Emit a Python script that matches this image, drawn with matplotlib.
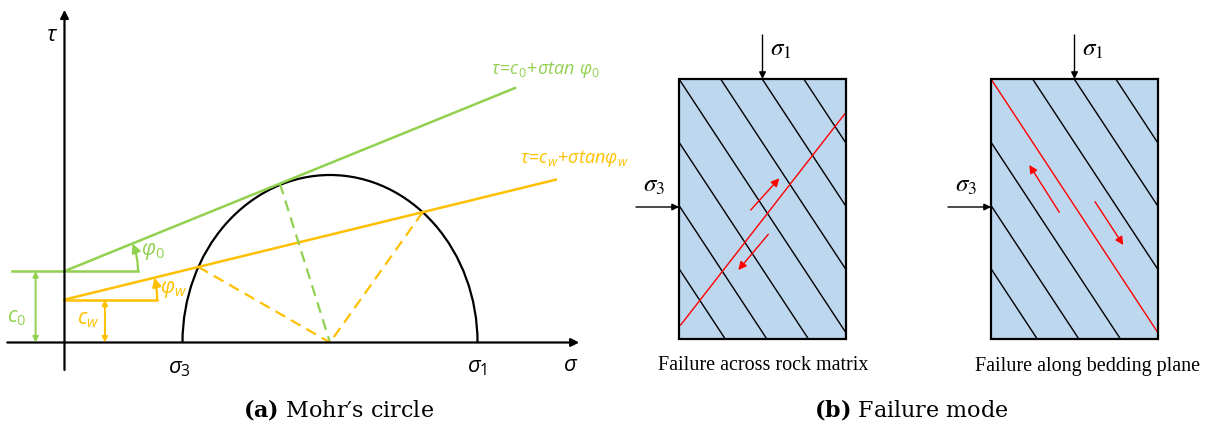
import numpy as np
import matplotlib.pyplot as plt
from matplotlib.patches import Arc, FancyArrowPatch, Rectangle

plt.rcParams['font.family'] = ['Liberation Serif', 'DejaVu Serif']
plt.rcParams['mathtext.fontset'] = 'custom'
plt.rcParams['mathtext.it'] = 'Open Sans:italic'
plt.rcParams['mathtext.rm'] = 'Open Sans'
plt.rcParams['mathtext.bf'] = 'Open Sans:bold'

GREEN = '#92D050'
ORANGE = '#FFC000'
BLUE = '#BDD7EE'
RED = '#FF0000'

# ---- (a) Mohr's circle (arbitrary stress units)
SIGMA_3 = 4.0
SIGMA_1 = 14.0
C0, TAN_PHI0 = 2.13, 0.358        # intact rock envelope
CW, TAN_PHIW = 1.28, 0.215        # weak plane envelope
ENV_END = [15.27, 16.65]          # sigma where each envelope line stops
SIG_AXIS = (-1.94, 17.45)
TAU_AXIS = (-0.82, 9.93)
C0_ARROW_X, CW_ARROW_X = -0.98, 1.37
GREEN_FLAT = (-1.79, 2.49)        # horizontal reference line at c0
ORANGE_FLAT = (0.0, 3.14)         # horizontal reference line at cw

# ---- (b) failure mode specimens, sketch units
BOX_LEFT = [679, 991]
BOX_TOP, BOX_W, BOX_H = 79, 167, 260
HATCH_STEP, HATCH_SLOPE = 41.6, 1.52
HATCH_K = range(-3, 4)
CRACK_LEFT = [(1.7, 246), (166.7, 33.7)]
SHEAR_LEFT = [((71.7, 131), (100.3, 99.3)), ((89.3, 155.3), (59.3, 191))]
SHEAR_RIGHT = [((68.3, 133.3), (38.3, 86)), ((104, 122.7), (132.3, 166))]
CAPTIONS_B = ['Failure across rock matrix', 'Failure along bedding plane']
CAPTION_X = [763, 1088]

fig = plt.figure(figsize=(12.17, 4.30), dpi=100)

# ================= panel (a)
ax = fig.add_axes([0, 0, 620 / 1217, 1])
ax.set_xlim(-2.186, 18.83)
ax.set_ylim(-2.612, 10.224)
ax.axis('off')
SX = 620 / (18.83 + 2.186)        # px per sigma unit
SY = 430 / (10.224 + 2.612)       # px per tau unit

center = (SIGMA_1 + SIGMA_3) / 2
R = (SIGMA_1 - SIGMA_3) / 2

ax.annotate('', xy=(SIG_AXIS[1], 0), xytext=(SIG_AXIS[0], 0),
            arrowprops=dict(arrowstyle='-|>', lw=1.6, color='black',
                            mutation_scale=12, shrinkA=0, shrinkB=0))
ax.annotate('', xy=(0, TAU_AXIS[1]), xytext=(0, TAU_AXIS[0]),
            arrowprops=dict(arrowstyle='-|>', lw=1.6, color='black',
                            mutation_scale=12, shrinkA=0, shrinkB=0))

ax.add_patch(Arc((center, 0), 2 * R, 2 * R, theta1=0, theta2=180,
                 lw=1.6, color='black'))

# envelopes
for c, m, end, col in [(C0, TAN_PHI0, ENV_END[0], GREEN),
                       (CW, TAN_PHIW, ENV_END[1], ORANGE)]:
    ax.plot([0, end], [c, c + m * end], color=col, lw=1.8)
ax.plot(GREEN_FLAT, [C0, C0], color=GREEN, lw=1.8)
ax.plot(ORANGE_FLAT, [CW, CW], color=ORANGE, lw=1.8)

# tangent point of the intact envelope
st = (center - TAN_PHI0 * C0) / (1 + TAN_PHI0 ** 2)
ax.plot([st, center], [C0 + TAN_PHI0 * st, 0], color=GREEN, lw=1.6,
        ls=(0, (5, 3)))

# intersections of the weak plane envelope with the circle
a = 1 + TAN_PHIW ** 2
b = 2 * TAN_PHIW * CW - 2 * center
cc = center ** 2 + CW ** 2 - R ** 2
for s in np.roots([a, b, cc]):
    ax.plot([s, center], [CW + TAN_PHIW * s, 0], color=ORANGE, lw=1.6,
            ls=(0, (5, 3)))


# angle arcs
def angle_arc(c, m, r, col, rad):
    r_px = r * SX
    ang = np.arctan(m * SY / SX)
    end = (r_px * np.cos(ang) / SX, c + r_px * np.sin(ang) / SY)
    ax.add_patch(FancyArrowPatch((r, c), end, connectionstyle=f'arc3,rad={rad}',
                                 arrowstyle='-|>', mutation_scale=13, lw=1.6,
                                 color=col, shrinkA=0, shrinkB=0))


angle_arc(C0, TAN_PHI0, GREEN_FLAT[1], GREEN, 0.1)
angle_arc(CW, TAN_PHIW, ORANGE_FLAT[1], ORANGE, 0.06)

# cohesion arrows
for x, c, col in [(C0_ARROW_X, C0, GREEN), (CW_ARROW_X, CW, ORANGE)]:
    ax.annotate('', xy=(x, c), xytext=(x, 0),
                arrowprops=dict(arrowstyle='<|-|>', lw=1.4, color=col,
                                mutation_scale=8, shrinkA=0, shrinkB=0))

mf = 'custom'
ax.text(-0.42, 9.12, r'$\tau$', fontsize=16, ha='center', va='center', math_fontfamily=mf)
ax.text(SIGMA_3 - 0.1, -0.8, r'$\sigma_\mathit{3}$', fontsize=16, ha='center', va='center', math_fontfamily=mf)
ax.text(SIGMA_1, -0.78, r'$\sigma_\mathit{1}$', fontsize=16, ha='center', va='center', math_fontfamily=mf)
ax.text(17.17, -0.72, r'$\sigma$', fontsize=16, ha='center', va='center', math_fontfamily=mf)
ax.text(16.29, 8.16, r'$\tau\!=\!c_\mathit{0}\!+\!\sigma tan\ \varphi_\mathit{0}$', fontsize=13,
        color=GREEN, ha='center', va='center', math_fontfamily=mf)
ax.text(15.45, 5.5, r'$\tau\!=\!c_\mathit{w}\!+\!\sigma tan\varphi_\mathit{w}$', fontsize=13,
        color=ORANGE, ha='left', va='center', math_fontfamily=mf)
ax.text(3.0, 2.72, r'$\varphi_\mathit{0}$', fontsize=15, color=GREEN, ha='center', va='center', math_fontfamily=mf)
ax.text(3.7, 1.57, r'$\varphi_\mathit{w}$', fontsize=15, color=ORANGE, ha='center', va='center', math_fontfamily=mf)
ax.text(-1.64, 0.73, r'$c_\mathit{0}$', fontsize=15, color=GREEN, ha='center', va='center', math_fontfamily=mf)
ax.text(0.8, 0.67, r'$c_\mathit{w}$', fontsize=15, color=ORANGE, ha='center', va='center', math_fontfamily=mf)

# ================= panel (b)
bx = fig.add_axes([620 / 1217, 0, 597 / 1217, 1])
bx.set_xlim(620, 1217)
bx.set_ylim(430, 0)
bx.axis('off')

for i, left in enumerate(BOX_LEFT):
    box = Rectangle((left, BOX_TOP), BOX_W, BOX_H, facecolor=BLUE,
                    edgecolor='none', zorder=1)
    bx.add_patch(box)
    for k in HATCH_K:
        x0 = left + k * HATCH_STEP
        col = RED if (i == 1 and k == 0) else 'black'
        ln, = bx.plot([x0 - 100, x0 + 400], [BOX_TOP - 100 * HATCH_SLOPE, BOX_TOP + 400 * HATCH_SLOPE],
                      color=col, lw=1.0, zorder=2)
        ln.set_clip_path(box)
    bx.add_patch(Rectangle((left, BOX_TOP), BOX_W, BOX_H, facecolor='none',
                           edgecolor='black', lw=1.6, zorder=4))

    # loads
    cx = left + BOX_W / 2
    bx.annotate('', xy=(cx, BOX_TOP), xytext=(cx, BOX_TOP - 44),
                arrowprops=dict(arrowstyle='-|>', lw=1.0, color='black',
                                mutation_scale=10, shrinkA=0, shrinkB=0))
    bx.annotate('', xy=(left, BOX_TOP + 128), xytext=(left - 43, BOX_TOP + 128),
                arrowprops=dict(arrowstyle='-|>', lw=1.0, color='black',
                                mutation_scale=10, shrinkA=0, shrinkB=0))
    bx.text(left + 102, BOX_TOP - 29, r'$\sigma_\mathit{1}$', fontsize=18, ha='center',
            va='center', math_fontfamily='stix')
    bx.text(left - 25, BOX_TOP + 107, r'$\sigma_\mathit{3}$', fontsize=18, ha='center',
            va='center', math_fontfamily='stix')
    bx.text(CAPTION_X[i], 366, CAPTIONS_B[i], fontsize=14.5, ha='center', va='center')

    shears = SHEAR_LEFT if i == 0 else SHEAR_RIGHT
    for p0, p1 in shears:
        bx.annotate('', xy=(left + p1[0], BOX_TOP + p1[1]),
                    xytext=(left + p0[0], BOX_TOP + p0[1]),
                    arrowprops=dict(arrowstyle='-|>', lw=1.0, color=RED,
                                    mutation_scale=12, shrinkA=0, shrinkB=0),
                    zorder=5)

(p0, p1) = CRACK_LEFT
bx.plot([BOX_LEFT[0] + p0[0], BOX_LEFT[0] + p1[0]],
        [BOX_TOP + p0[1], BOX_TOP + p1[1]], color=RED, lw=1.0, zorder=3)

# captions
fig.text(339 / 1217, 1 - 410 / 430, r"$\bf{(a)}$ Mohr′s circle", fontsize=16,
         ha='center', va='center', family=['DejaVu Serif'], math_fontfamily='dejavuserif')
fig.text(911 / 1217, 1 - 410 / 430, r"$\bf{(b)}$ Failure mode", fontsize=16,
         ha='center', va='center', family=['DejaVu Serif'], math_fontfamily='dejavuserif')

fig.savefig('out.png', dpi=100)
